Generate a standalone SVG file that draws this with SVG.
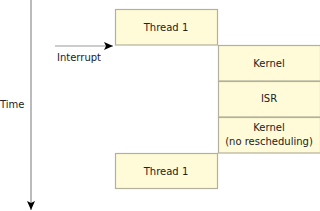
<svg xmlns="http://www.w3.org/2000/svg" width="320" height="211" viewBox="0 0 320 211">
<style>
.box{fill:#fffbd8;stroke:#b3b19c;stroke-width:1.2}
.t{font-family:"DejaVu Sans",Verdana,sans-serif;font-size:10px;fill:#222}
.c{text-anchor:middle}
.ln{stroke:#bbbbbb;fill:none}
</style>
<defs>
<marker id="ah" markerWidth="10" markerHeight="8" refX="9" refY="4" orient="auto" markerUnits="userSpaceOnUse">
<path d="M0,0 L9,4 L0,8 L2,4 Z" fill="#000"/>
</marker>
</defs>
<g id="connectors">
<line class="ln" x1="31" y1="0" x2="31" y2="210" stroke-width="2" marker-end="url(#ah)"/>
<line class="ln" x1="55" y1="46" x2="113" y2="46" stroke-width="1.6" marker-end="url(#ah)"/>
</g>
<g id="time"><text class="t" x="0" y="108">Time</text></g>
<g id="interrupt"><text class="t" x="57" y="61">Interrupt</text></g>
<g id="thread1a">
<rect class="box" x="115.5" y="9.5" width="102" height="35.5"/>
<text class="t c" x="166" y="31">Thread 1</text>
</g>
<g id="kernel1">
<rect class="box" x="218.5" y="45.5" width="102" height="35.5"/>
<text class="t c" x="269" y="67">Kernel</text>
</g>
<g id="isr">
<rect class="box" x="218.5" y="81.5" width="102" height="35.5"/>
<text class="t c" x="269" y="102">ISR</text>
</g>
<g id="kernel2">
<rect class="box" x="218.5" y="117.5" width="102" height="35.5"/>
<text class="t c" x="269" y="131">Kernel</text>
<text class="t c" x="269" y="145">(no rescheduling)</text>
</g>
<g id="thread1b">
<rect class="box" x="115.5" y="153.5" width="102" height="35"/>
<text class="t c" x="166" y="175">Thread 1</text>
</g>
</svg>
